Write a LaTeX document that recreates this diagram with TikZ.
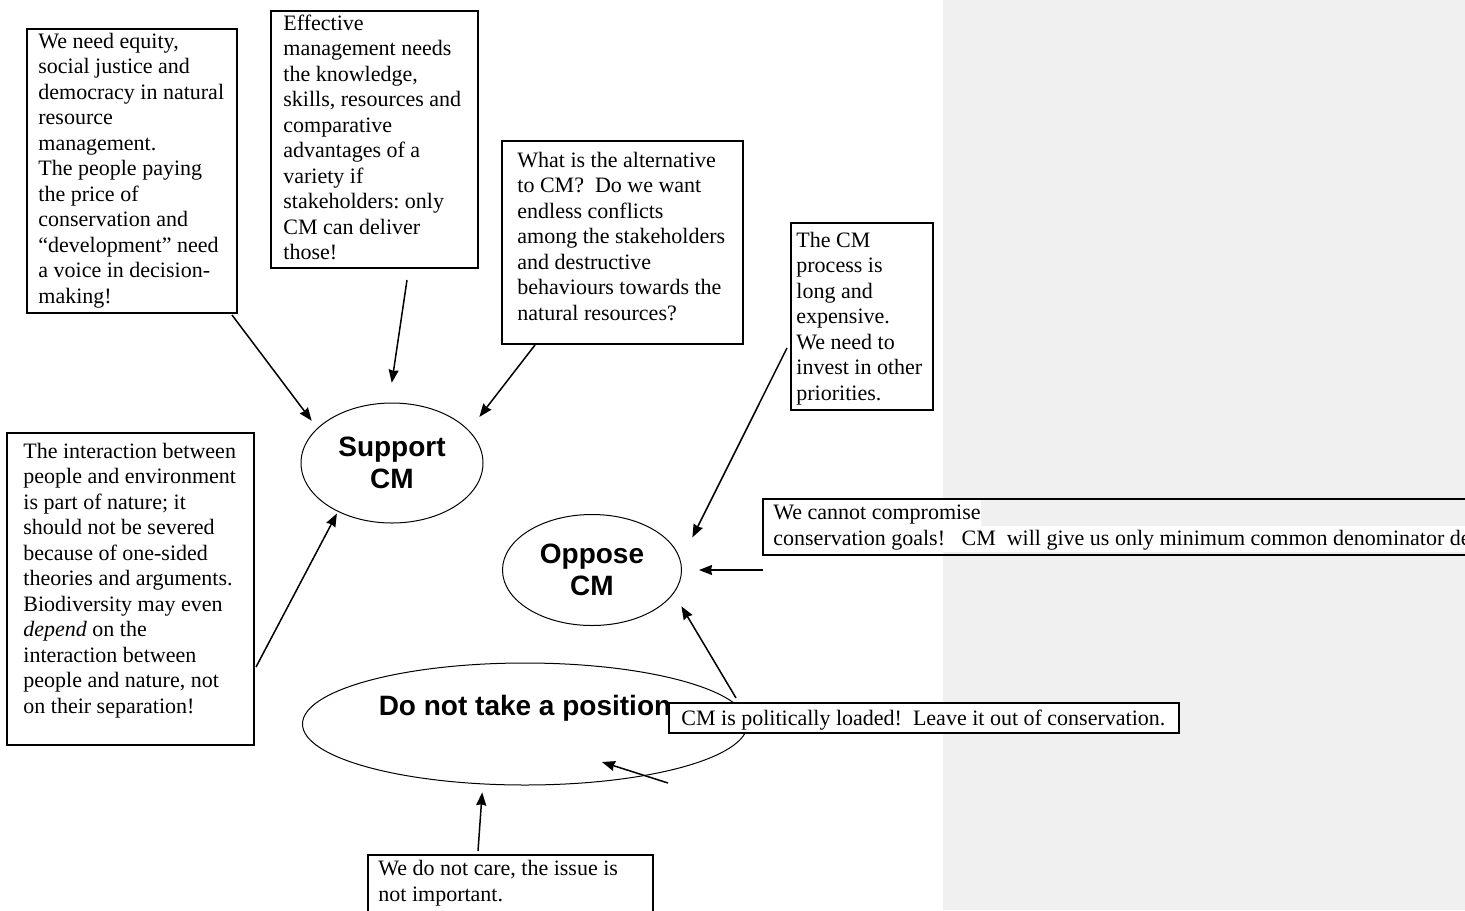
\documentclass[tikz,border=0pt]{standalone}
\usepackage{fontspec}
\setmainfont{Liberation Serif}
\newfontfamily\headfont{Liberation Sans}
\usetikzlibrary{arrows.meta,shapes.geometric,fit}
\definecolor{margingray}{RGB}{240,240,240}
\frenchspacing

\begin{document}
\begin{tikzpicture}[x=0.5pt, y=-0.5pt, >={Stealth[length=6.5pt,width=5pt,inset=0.5pt]},
  font=\fontsize{11}{12.75}\selectfont,
  note/.style={draw, line width=0.6pt, inner sep=0pt},
  notetext/.style={anchor=base west, align=left, inner sep=0pt},
  stance/.style={draw, ellipse, line width=0.5pt, inner sep=0pt, align=center, font=\headfont\bfseries\fontsize{14}{16}\selectfont},
  link/.style={->, line width=0.75pt}]
  \useasboundingbox (0,0) rectangle (1465,910);
  \fill[white] (0,0) rectangle (943,910);
  \fill[margingray] (943,0) rectangle (1465,910);

  \node[note, fit={(27,29) (237,313)}] (equity) {};
  \node[notetext] (equitytxt) at (38,303) {We need equity,\\social justice and\\democracy in natural\\resource\\management.\\The people paying\\the price of\\conservation and\\“development” need\\a voice in decision-\\making!};
  \node[note, fit={(271,11) (478,268)}] (skills) {};
  \node[notetext] (skillstxt) at (283,259.5) {Effective\\management needs\\the knowledge,\\skills, resources and\\comparative\\advantages of a\\variety if\\stakeholders: only\\CM can deliver\\those!};
  \node[note, fit={(502,141) (743,344)}] (conflict) {};
  \node[notetext] (conflicttxt) at (517,320) {What is the alternative\\to CM?~~Do we want\\endless conflicts\\among the stakeholders\\and destructive\\behaviours towards the\\natural resources?};
  \node[note, fit={(791,223) (933,410)}] (costly) {};
  \node[notetext] (costlytxt) at (796,400) {The CM\\process is\\long and\\expensive.\\We need to\\invest in other\\priorities.};
  \node[note, fit={(7,433) (254,745)}] (nature) {};
  \node[notetext] (naturetxt) at (23,713) {The interaction between\\people and environment\\is part of nature; it\\should not be severed\\because of one-sided\\theories and arguments.\\Biodiversity may even\\\textit{depend} on the\\interaction between\\people and nature, not\\on their separation!};
  \node[note, fit={(763,499) (1480,555)}] (compromise) {};
  \node[notetext, fill=white, text height=9.5pt, text depth=3.5pt] (compromisetxt) at (773,519) {We cannot compromise};
  \node[notetext, fill=white, text height=9.5pt, text depth=3.5pt] (denominatortxt) at (773,545) {conservation goals!~~~CM~~will give us only minimum common denominator de};
  \node[note, fit={(368,855) (653,920)}] (nocare) {};
  \node[notetext] (nocaretxt) at (378,901) {We do not care, the issue is\\not important.};

  \node[stance, minimum width=91pt, minimum height=60pt] (support) at (392,463) {Support\\CM};
  \node[stance, minimum width=89.5pt, minimum height=55.5pt] (oppose) at (592,570) {Oppose\\CM};
  \node[stance, minimum width=222.5pt, minimum height=61pt, text height=10pt, text depth=19pt] (neutral) at (525,724) {Do not take a position};

  \node[note, fill=white, fit={(669,703) (1179,733)}] (politics) {};
  \node[notetext] (politicstxt) at (681,725) {CM is politically loaded!~~Leave it out of conservation.};

  \coordinate (fromequity) at (232,315);
  \coordinate (fromskills) at (407,280);
  \coordinate (fromconflict) at (535,345);
  \coordinate (fromnature) at (256,667);
  \coordinate (fromcostly) at (787,348);
  \coordinate (fromcompromise) at (763,570);
  \coordinate (frompolitics) at (736,698);
  \coordinate (frompoliticsb) at (668,783);
  \coordinate (neutralin) at (602,762);
  \coordinate (fromnocare) at (478,851);

  \draw[link, shorten >=4.6pt] (fromequity) -- (support.155);
  \draw[link, shorten >=10pt] (fromskills) -- (support.93);
  \draw[link, shorten >=8.5pt] (fromconflict) -- (support.23);
  \draw[link, shorten >=1pt] (fromnature) -- (support.222);
  \draw[link, shorten >=13pt] (fromcostly) -- (oppose.6);
  \draw[link, shorten >=8.5pt] (fromcompromise) -- (oppose.east);
  \draw[link, shorten >=7.5pt] (frompolitics) -- (oppose.344);
  \draw[link] (frompoliticsb) -- (neutralin);
  \draw[link, shorten >=4pt] (fromnocare) -- (neutral.235);
\end{tikzpicture}
\end{document}
